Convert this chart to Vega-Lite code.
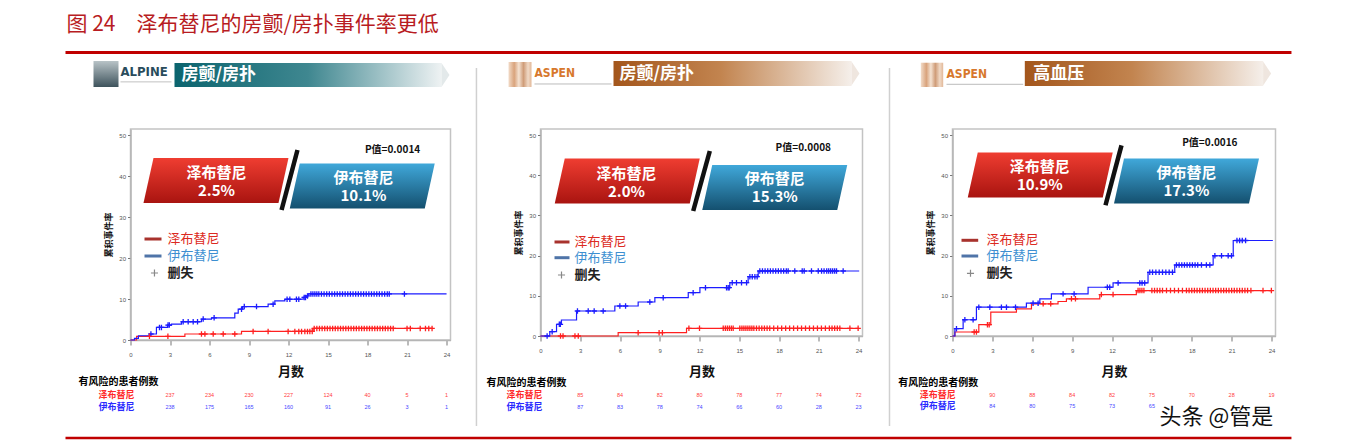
{
  "$schema": "https://vega.github.io/schema/vega-lite/v6.json",
  "background": "white",
  "padding": {"left": 62.5, "top": 13, "right": 5, "bottom": 5},
  "bounds": "flush",
  "spacing": 90,
  "config": {
    "font": "Noto Sans CJK SC",
    "view": {"stroke": "#c3c3c3", "strokeWidth": 1.5},
    "axis": {"grid": false, "domainColor": "#b5b5b5", "domainWidth": 1.5, "tickColor": "#777777", "labelFontSize": 6, "labelColor": "#555555", "labelFont": "Liberation Sans", "labelFlush": false, "labelOverlap": false, "titleColor": "#111111", "titleFont": "Noto Sans CJK SC", "titleFontWeight": "bold"},
    "axisX": {"tickSize": 5, "labelPadding": 6, "titleFontSize": 13},
    "axisY": {"tickSize": 3, "labelPadding": 2, "titleFontSize": 9, "titlePadding": 5}
  },
  "datasets": {
    "one": [{}],
    "p1_steps": [
      {"arm": "泽布替尼", "m": 0, "v": 0}, {"arm": "泽布替尼", "m": 0.46, "v": 0.89}, {"arm": "泽布替尼", "m": 4.13, "v": 1.46}, {"arm": "泽布替尼", "m": 8.43, "v": 2.1}, {"arm": "泽布替尼", "m": 13.87, "v": 2.83}, {"arm": "泽布替尼", "m": 22.98, "v": 2.83},
      {"arm": "伊布替尼", "m": 0, "v": 0}, {"arm": "伊布替尼", "m": 0.3, "v": 0.4}, {"arm": "伊布替尼", "m": 0.6, "v": 1.04}, {"arm": "伊布替尼", "m": 1.47, "v": 1.46}, {"arm": "伊布替尼", "m": 1.97, "v": 3.07}, {"arm": "伊布替尼", "m": 2.81, "v": 3.64}, {"arm": "伊布替尼", "m": 3.11, "v": 3.88}, {"arm": "伊布替尼", "m": 3.87, "v": 4.45}, {"arm": "伊布替尼", "m": 5.39, "v": 5.1}, {"arm": "伊布替尼", "m": 6.15, "v": 5.42}, {"arm": "伊布替尼", "m": 7.92, "v": 6.55}, {"arm": "伊布替尼", "m": 8.18, "v": 7.52}, {"arm": "伊布替尼", "m": 8.5, "v": 8.17}, {"arm": "伊布替尼", "m": 10.45, "v": 8.74}, {"arm": "伊布替尼", "m": 10.96, "v": 9.55}, {"arm": "伊布替尼", "m": 11.72, "v": 9.95}, {"arm": "伊布替尼", "m": 13.11, "v": 10.4}, {"arm": "伊布替尼", "m": 13.36, "v": 10.76}, {"arm": "伊布替尼", "m": 13.49, "v": 11.24}, {"arm": "伊布替尼", "m": 24, "v": 11.24}
    ],
    "p1_marks": [
      {"arm": "伊布替尼", "m": 1.55, "v": 1.46}, {"arm": "伊布替尼", "m": 2.2, "v": 3.07}, {"arm": "伊布替尼", "m": 2.35, "v": 3.07}, {"arm": "伊布替尼", "m": 2.85, "v": 3.64}, {"arm": "伊布替尼", "m": 2.95, "v": 3.64}, {"arm": "伊布替尼", "m": 4.0, "v": 4.45}, {"arm": "伊布替尼", "m": 4.38, "v": 4.45}, {"arm": "伊布替尼", "m": 4.76, "v": 4.45}, {"arm": "伊布替尼", "m": 5.09, "v": 4.45}, {"arm": "伊布替尼", "m": 5.52, "v": 5.1}, {"arm": "伊布替尼", "m": 6.35, "v": 5.42}, {"arm": "伊布替尼", "m": 8.43, "v": 7.52}, {"arm": "伊布替尼", "m": 8.64, "v": 8.17}, {"arm": "伊布替尼", "m": 9.57, "v": 8.17}, {"arm": "伊布替尼", "m": 10.83, "v": 8.74}, {"arm": "伊布替尼", "m": 11.89, "v": 9.95}, {"arm": "伊布替尼", "m": 12.1, "v": 9.95}, {"arm": "伊布替尼", "m": 12.6, "v": 9.95}, {"arm": "伊布替尼", "m": 12.78, "v": 9.95}, {"arm": "伊布替尼", "m": 13.19, "v": 10.4}, {"arm": "伊布替尼", "m": 13.29, "v": 10.4}, {"arm": "伊布替尼", "m": 13.44, "v": 10.76},
      {"arm": "伊布替尼", "m": 13.7, "v": 11.24}, {"arm": "伊布替尼", "m": 13.85, "v": 11.24}, {"arm": "伊布替尼", "m": 14.0, "v": 11.24}, {"arm": "伊布替尼", "m": 14.15, "v": 11.24}, {"arm": "伊布替尼", "m": 14.3, "v": 11.24}, {"arm": "伊布替尼", "m": 14.5, "v": 11.24}, {"arm": "伊布替尼", "m": 14.7, "v": 11.24}, {"arm": "伊布替尼", "m": 14.9, "v": 11.24}, {"arm": "伊布替尼", "m": 15.1, "v": 11.24}, {"arm": "伊布替尼", "m": 15.3, "v": 11.24}, {"arm": "伊布替尼", "m": 15.5, "v": 11.24}, {"arm": "伊布替尼", "m": 15.7, "v": 11.24}, {"arm": "伊布替尼", "m": 15.9, "v": 11.24}, {"arm": "伊布替尼", "m": 16.1, "v": 11.24}, {"arm": "伊布替尼", "m": 16.3, "v": 11.24}, {"arm": "伊布替尼", "m": 16.5, "v": 11.24}, {"arm": "伊布替尼", "m": 16.7, "v": 11.24}, {"arm": "伊布替尼", "m": 16.9, "v": 11.24}, {"arm": "伊布替尼", "m": 17.1, "v": 11.24}, {"arm": "伊布替尼", "m": 17.3, "v": 11.24}, {"arm": "伊布替尼", "m": 17.5, "v": 11.24}, {"arm": "伊布替尼", "m": 17.7, "v": 11.24}, {"arm": "伊布替尼", "m": 17.9, "v": 11.24}, {"arm": "伊布替尼", "m": 18.1, "v": 11.24}, {"arm": "伊布替尼", "m": 18.3, "v": 11.24}, {"arm": "伊布替尼", "m": 18.5, "v": 11.24}, {"arm": "伊布替尼", "m": 18.7, "v": 11.24}, {"arm": "伊布替尼", "m": 18.9, "v": 11.24}, {"arm": "伊布替尼", "m": 19.1, "v": 11.24}, {"arm": "伊布替尼", "m": 19.3, "v": 11.24}, {"arm": "伊布替尼", "m": 19.5, "v": 11.24}, {"arm": "伊布替尼", "m": 19.65, "v": 11.24}, {"arm": "伊布替尼", "m": 20.8, "v": 11.24},
      {"arm": "泽布替尼", "m": 1.44, "v": 0.89}, {"arm": "泽布替尼", "m": 2.84, "v": 0.89}, {"arm": "泽布替尼", "m": 5.39, "v": 1.46}, {"arm": "泽布替尼", "m": 5.65, "v": 1.46}, {"arm": "泽布替尼", "m": 6.28, "v": 1.46}, {"arm": "泽布替尼", "m": 7.04, "v": 1.46}, {"arm": "泽布替尼", "m": 7.92, "v": 1.46}, {"arm": "泽布替尼", "m": 9.31, "v": 2.1}, {"arm": "泽布替尼", "m": 10.45, "v": 2.1}, {"arm": "泽布替尼", "m": 11.97, "v": 2.1}, {"arm": "泽布替尼", "m": 12.48, "v": 2.1}, {"arm": "泽布替尼", "m": 12.78, "v": 2.1}, {"arm": "泽布替尼", "m": 12.99, "v": 2.1}, {"arm": "泽布替尼", "m": 13.24, "v": 2.1}, {"arm": "泽布替尼", "m": 13.44, "v": 2.1}, {"arm": "泽布替尼", "m": 13.62, "v": 2.1}, {"arm": "泽布替尼", "m": 13.8, "v": 2.1},
      {"arm": "泽布替尼", "m": 13.95, "v": 2.83}, {"arm": "泽布替尼", "m": 14.15, "v": 2.83}, {"arm": "泽布替尼", "m": 14.35, "v": 2.83}, {"arm": "泽布替尼", "m": 14.55, "v": 2.83}, {"arm": "泽布替尼", "m": 14.75, "v": 2.83}, {"arm": "泽布替尼", "m": 14.95, "v": 2.83}, {"arm": "泽布替尼", "m": 15.15, "v": 2.83}, {"arm": "泽布替尼", "m": 15.35, "v": 2.83}, {"arm": "泽布替尼", "m": 15.55, "v": 2.83}, {"arm": "泽布替尼", "m": 15.75, "v": 2.83}, {"arm": "泽布替尼", "m": 15.95, "v": 2.83}, {"arm": "泽布替尼", "m": 16.15, "v": 2.83}, {"arm": "泽布替尼", "m": 16.35, "v": 2.83}, {"arm": "泽布替尼", "m": 16.55, "v": 2.83}, {"arm": "泽布替尼", "m": 16.75, "v": 2.83}, {"arm": "泽布替尼", "m": 16.95, "v": 2.83}, {"arm": "泽布替尼", "m": 17.15, "v": 2.83}, {"arm": "泽布替尼", "m": 17.35, "v": 2.83}, {"arm": "泽布替尼", "m": 17.55, "v": 2.83}, {"arm": "泽布替尼", "m": 17.75, "v": 2.83}, {"arm": "泽布替尼", "m": 17.95, "v": 2.83}, {"arm": "泽布替尼", "m": 18.15, "v": 2.83}, {"arm": "泽布替尼", "m": 18.35, "v": 2.83}, {"arm": "泽布替尼", "m": 18.55, "v": 2.83}, {"arm": "泽布替尼", "m": 18.75, "v": 2.83}, {"arm": "泽布替尼", "m": 18.95, "v": 2.83}, {"arm": "泽布替尼", "m": 19.15, "v": 2.83}, {"arm": "泽布替尼", "m": 19.35, "v": 2.83}, {"arm": "泽布替尼", "m": 19.55, "v": 2.83}, {"arm": "泽布替尼", "m": 19.75, "v": 2.83}, {"arm": "泽布替尼", "m": 19.95, "v": 2.83}, {"arm": "泽布替尼", "m": 21.0, "v": 2.83}, {"arm": "泽布替尼", "m": 21.25, "v": 2.83}, {"arm": "泽布替尼", "m": 22.0, "v": 2.83}, {"arm": "泽布替尼", "m": 22.4, "v": 2.83}, {"arm": "泽布替尼", "m": 22.65, "v": 2.83}, {"arm": "泽布替尼", "m": 22.9, "v": 2.83}
    ],
    "p1_risk": [
      {"arm": "泽布替尼", "month": 3, "n": 237}, {"arm": "泽布替尼", "month": 6, "n": 234}, {"arm": "泽布替尼", "month": 9, "n": 230}, {"arm": "泽布替尼", "month": 12, "n": 227}, {"arm": "泽布替尼", "month": 15, "n": 124}, {"arm": "泽布替尼", "month": 18, "n": 40}, {"arm": "泽布替尼", "month": 21, "n": 5}, {"arm": "泽布替尼", "month": 24, "n": 1},
      {"arm": "伊布替尼", "month": 3, "n": 238}, {"arm": "伊布替尼", "month": 6, "n": 175}, {"arm": "伊布替尼", "month": 9, "n": 165}, {"arm": "伊布替尼", "month": 12, "n": 160}, {"arm": "伊布替尼", "month": 15, "n": 91}, {"arm": "伊布替尼", "month": 18, "n": 26}, {"arm": "伊布替尼", "month": 21, "n": 3}, {"arm": "伊布替尼", "month": 24, "n": 1}
    ],
    "p2_steps": [
      {"arm": "泽布替尼", "m": 0, "v": 0}, {"arm": "泽布替尼", "m": 5.86, "v": 0.83}, {"arm": "泽布替尼", "m": 11.02, "v": 1.9}, {"arm": "泽布替尼", "m": 24, "v": 1.9},
      {"arm": "伊布替尼", "m": 0, "v": 0}, {"arm": "伊布替尼", "m": 0.7, "v": 1.07}, {"arm": "伊布替尼", "m": 1.21, "v": 2.9}, {"arm": "伊布替尼", "m": 1.58, "v": 3.98}, {"arm": "伊布替尼", "m": 2.72, "v": 6.22}, {"arm": "伊布替尼", "m": 5.61, "v": 7.46}, {"arm": "伊布替尼", "m": 7.37, "v": 8.46}, {"arm": "伊布替尼", "m": 8.63, "v": 9.53}, {"arm": "伊布替尼", "m": 11.15, "v": 10.78}, {"arm": "伊布替尼", "m": 12.03, "v": 12.02}, {"arm": "伊布替尼", "m": 14.29, "v": 13.27}, {"arm": "伊布替尼", "m": 15.67, "v": 14.76}, {"arm": "伊布替尼", "m": 16.43, "v": 16.17}, {"arm": "伊布替尼", "m": 24.05, "v": 16.17}
    ],
    "p2_marks": [
      {"arm": "伊布替尼", "m": 0.5, "v": 0}, {"arm": "伊布替尼", "m": 0.88, "v": 1.07}, {"arm": "伊布替尼", "m": 1.42, "v": 2.9}, {"arm": "伊布替尼", "m": 1.5, "v": 2.9}, {"arm": "伊布替尼", "m": 2.79, "v": 6.22}, {"arm": "伊布替尼", "m": 3.6, "v": 6.22}, {"arm": "伊布替尼", "m": 4.05, "v": 6.22}, {"arm": "伊布替尼", "m": 4.73, "v": 6.22}, {"arm": "伊布替尼", "m": 5.99, "v": 7.46}, {"arm": "伊布替尼", "m": 6.42, "v": 7.46}, {"arm": "伊布替尼", "m": 8.25, "v": 8.46}, {"arm": "伊布替尼", "m": 9.26, "v": 9.53}, {"arm": "伊布替尼", "m": 11.52, "v": 10.78}, {"arm": "伊布替尼", "m": 12.45, "v": 12.02}, {"arm": "伊布替尼", "m": 14.04, "v": 12.02}, {"arm": "伊布替尼", "m": 14.16, "v": 12.02}, {"arm": "伊布替尼", "m": 14.24, "v": 12.02}, {"arm": "伊布替尼", "m": 14.47, "v": 13.27}, {"arm": "伊布替尼", "m": 14.79, "v": 13.27}, {"arm": "伊布替尼", "m": 15.17, "v": 13.27}, {"arm": "伊布替尼", "m": 15.55, "v": 13.27}, {"arm": "伊布替尼", "m": 15.8, "v": 14.76}, {"arm": "伊布替尼", "m": 15.98, "v": 14.76}, {"arm": "伊布替尼", "m": 16.18, "v": 14.76}, {"arm": "伊布替尼", "m": 16.35, "v": 14.76},
      {"arm": "伊布替尼", "m": 16.55, "v": 16.17}, {"arm": "伊布替尼", "m": 16.75, "v": 16.17}, {"arm": "伊布替尼", "m": 16.95, "v": 16.17}, {"arm": "伊布替尼", "m": 17.15, "v": 16.17}, {"arm": "伊布替尼", "m": 17.35, "v": 16.17}, {"arm": "伊布替尼", "m": 17.55, "v": 16.17}, {"arm": "伊布替尼", "m": 17.75, "v": 16.17}, {"arm": "伊布替尼", "m": 17.95, "v": 16.17}, {"arm": "伊布替尼", "m": 18.15, "v": 16.17}, {"arm": "伊布替尼", "m": 18.35, "v": 16.17}, {"arm": "伊布替尼", "m": 18.55, "v": 16.17}, {"arm": "伊布替尼", "m": 18.69, "v": 16.17}, {"arm": "伊布替尼", "m": 19.19, "v": 16.17}, {"arm": "伊布替尼", "m": 19.75, "v": 16.17}, {"arm": "伊布替尼", "m": 19.9, "v": 16.17}, {"arm": "伊布替尼", "m": 20.45, "v": 16.17}, {"arm": "伊布替尼", "m": 20.96, "v": 16.17}, {"arm": "伊布替尼", "m": 21.21, "v": 16.17}, {"arm": "伊布替尼", "m": 21.4, "v": 16.17}, {"arm": "伊布替尼", "m": 21.6, "v": 16.17}, {"arm": "伊布替尼", "m": 21.75, "v": 16.17}, {"arm": "伊布替尼", "m": 21.9, "v": 16.17}, {"arm": "伊布替尼", "m": 22.05, "v": 16.17}, {"arm": "伊布替尼", "m": 22.2, "v": 16.17}, {"arm": "伊布替尼", "m": 22.34, "v": 16.17}, {"arm": "伊布替尼", "m": 22.84, "v": 16.17},
      {"arm": "泽布替尼", "m": 1.51, "v": 0}, {"arm": "泽布替尼", "m": 1.7, "v": 0}, {"arm": "泽布替尼", "m": 2.6, "v": 0}, {"arm": "泽布替尼", "m": 2.85, "v": 0}, {"arm": "泽布替尼", "m": 7.37, "v": 0.83}, {"arm": "泽布替尼", "m": 8.95, "v": 0.83}, {"arm": "泽布替尼", "m": 9.2, "v": 0.83}, {"arm": "泽布替尼", "m": 11.2, "v": 1.9}, {"arm": "泽布替尼", "m": 12.0, "v": 1.9}, {"arm": "泽布替尼", "m": 13.79, "v": 1.9}, {"arm": "泽布替尼", "m": 13.95, "v": 1.9}, {"arm": "泽布替尼", "m": 14.1, "v": 1.9}, {"arm": "泽布替尼", "m": 14.25, "v": 1.9}, {"arm": "泽布替尼", "m": 14.4, "v": 1.9}, {"arm": "泽布替尼", "m": 14.54, "v": 1.9}, {"arm": "泽布替尼", "m": 15.04, "v": 1.9}, {"arm": "泽布替尼", "m": 15.2, "v": 1.9}, {"arm": "泽布替尼", "m": 15.35, "v": 1.9}, {"arm": "泽布替尼", "m": 15.5, "v": 1.9}, {"arm": "泽布替尼", "m": 15.65, "v": 1.9}, {"arm": "泽布替尼", "m": 15.8, "v": 1.9}, {"arm": "泽布替尼", "m": 15.95, "v": 1.9}, {"arm": "泽布替尼", "m": 16.1, "v": 1.9}, {"arm": "泽布替尼", "m": 16.3, "v": 1.9}, {"arm": "泽布替尼", "m": 16.5, "v": 1.9}, {"arm": "泽布替尼", "m": 16.7, "v": 1.9}, {"arm": "泽布替尼", "m": 16.9, "v": 1.9}, {"arm": "泽布替尼", "m": 17.1, "v": 1.9}, {"arm": "泽布替尼", "m": 17.3, "v": 1.9}, {"arm": "泽布替尼", "m": 17.6, "v": 1.9}, {"arm": "泽布替尼", "m": 17.9, "v": 1.9}, {"arm": "泽布替尼", "m": 18.2, "v": 1.9}, {"arm": "泽布替尼", "m": 18.5, "v": 1.9}, {"arm": "泽布替尼", "m": 18.8, "v": 1.9}, {"arm": "泽布替尼", "m": 19.1, "v": 1.9}, {"arm": "泽布替尼", "m": 19.4, "v": 1.9}, {"arm": "泽布替尼", "m": 19.7, "v": 1.9}, {"arm": "泽布替尼", "m": 20.0, "v": 1.9}, {"arm": "泽布替尼", "m": 20.3, "v": 1.9}, {"arm": "泽布替尼", "m": 20.6, "v": 1.9}, {"arm": "泽布替尼", "m": 20.9, "v": 1.9}, {"arm": "泽布替尼", "m": 21.2, "v": 1.9}, {"arm": "泽布替尼", "m": 21.5, "v": 1.9}, {"arm": "泽布替尼", "m": 21.8, "v": 1.9}, {"arm": "泽布替尼", "m": 22.0, "v": 1.9}, {"arm": "泽布替尼", "m": 22.2, "v": 1.9}, {"arm": "泽布替尼", "m": 22.4, "v": 1.9}, {"arm": "泽布替尼", "m": 22.59, "v": 1.9}, {"arm": "泽布替尼", "m": 23.35, "v": 1.9}, {"arm": "泽布替尼", "m": 23.97, "v": 1.9}
    ],
    "p2_risk": [
      {"arm": "泽布替尼", "month": 3, "n": 85}, {"arm": "泽布替尼", "month": 6, "n": 84}, {"arm": "泽布替尼", "month": 9, "n": 82}, {"arm": "泽布替尼", "month": 12, "n": 80}, {"arm": "泽布替尼", "month": 15, "n": 78}, {"arm": "泽布替尼", "month": 18, "n": 77}, {"arm": "泽布替尼", "month": 21, "n": 74}, {"arm": "泽布替尼", "month": 24, "n": 72},
      {"arm": "伊布替尼", "month": 3, "n": 87}, {"arm": "伊布替尼", "month": 6, "n": 83}, {"arm": "伊布替尼", "month": 9, "n": 78}, {"arm": "伊布替尼", "month": 12, "n": 74}, {"arm": "伊布替尼", "month": 15, "n": 66}, {"arm": "伊布替尼", "month": 18, "n": 60}, {"arm": "伊布替尼", "month": 21, "n": 28}, {"arm": "伊布替尼", "month": 24, "n": 23}
    ],
    "p3_steps": [
      {"arm": "泽布替尼", "m": 0, "v": 0}, {"arm": "泽布替尼", "m": 0.18, "v": 0.99}, {"arm": "泽布替尼", "m": 1.98, "v": 2.81}, {"arm": "泽布替尼", "m": 2.88, "v": 5.94}, {"arm": "泽布替尼", "m": 4.81, "v": 6.77}, {"arm": "泽布替尼", "m": 5.94, "v": 8.0}, {"arm": "泽布替尼", "m": 7.94, "v": 8.58}, {"arm": "泽布替尼", "m": 8.57, "v": 9.24}, {"arm": "泽布替尼", "m": 11.08, "v": 10.31}, {"arm": "泽布替尼", "m": 13.83, "v": 11.3}, {"arm": "泽布替尼", "m": 24, "v": 11.3},
      {"arm": "伊布替尼", "m": 0, "v": 0}, {"arm": "伊布替尼", "m": 0.18, "v": 1.82}, {"arm": "伊布替尼", "m": 0.8, "v": 4.04}, {"arm": "伊布替尼", "m": 1.8, "v": 7.18}, {"arm": "伊布替尼", "m": 5.56, "v": 8.17}, {"arm": "伊布替尼", "m": 6.57, "v": 9.24}, {"arm": "伊布替尼", "m": 7.44, "v": 10.48}, {"arm": "伊布替尼", "m": 10.2, "v": 12.13}, {"arm": "伊布替尼", "m": 12.08, "v": 13.2}, {"arm": "伊布替尼", "m": 14.71, "v": 15.84}, {"arm": "伊布替尼", "m": 16.72, "v": 17.66}, {"arm": "伊布替尼", "m": 19.61, "v": 19.97}, {"arm": "伊布替尼", "m": 21.12, "v": 23.76}, {"arm": "伊布替尼", "m": 24.1, "v": 23.76}
    ],
    "p3_marks": [
      {"arm": "伊布替尼", "m": 0.3, "v": 1.82}, {"arm": "伊布替尼", "m": 0.93, "v": 4.04}, {"arm": "伊布替尼", "m": 1.55, "v": 4.04}, {"arm": "伊布替尼", "m": 1.98, "v": 7.18}, {"arm": "伊布替尼", "m": 2.81, "v": 7.18}, {"arm": "伊布替尼", "m": 3.68, "v": 7.18}, {"arm": "伊布替尼", "m": 4.06, "v": 7.18}, {"arm": "伊布替尼", "m": 4.74, "v": 7.18}, {"arm": "伊布替尼", "m": 6.06, "v": 8.17}, {"arm": "伊布替尼", "m": 6.44, "v": 8.17}, {"arm": "伊布替尼", "m": 8.32, "v": 10.48}, {"arm": "伊布替尼", "m": 9.15, "v": 10.48}, {"arm": "伊布替尼", "m": 11.65, "v": 12.13}, {"arm": "伊布替尼", "m": 11.83, "v": 12.13}, {"arm": "伊布替尼", "m": 12.46, "v": 13.2}, {"arm": "伊布替尼", "m": 14.09, "v": 13.2}, {"arm": "伊布替尼", "m": 14.26, "v": 13.2}, {"arm": "伊布替尼", "m": 14.46, "v": 13.2},
      {"arm": "伊布替尼", "m": 14.84, "v": 15.84}, {"arm": "伊布替尼", "m": 15.05, "v": 15.84}, {"arm": "伊布替尼", "m": 15.3, "v": 15.84}, {"arm": "伊布替尼", "m": 15.55, "v": 15.84}, {"arm": "伊布替尼", "m": 15.8, "v": 15.84}, {"arm": "伊布替尼", "m": 16.05, "v": 15.84}, {"arm": "伊布替尼", "m": 16.3, "v": 15.84}, {"arm": "伊布替尼", "m": 16.55, "v": 15.84},
      {"arm": "伊布替尼", "m": 16.85, "v": 17.66}, {"arm": "伊布替尼", "m": 17.05, "v": 17.66}, {"arm": "伊布替尼", "m": 17.25, "v": 17.66}, {"arm": "伊布替尼", "m": 17.45, "v": 17.66}, {"arm": "伊布替尼", "m": 17.65, "v": 17.66}, {"arm": "伊布替尼", "m": 17.85, "v": 17.66}, {"arm": "伊布替尼", "m": 18.05, "v": 17.66}, {"arm": "伊布替尼", "m": 18.25, "v": 17.66}, {"arm": "伊布替尼", "m": 18.45, "v": 17.66}, {"arm": "伊布替尼", "m": 18.73, "v": 17.66}, {"arm": "伊布替尼", "m": 19.1, "v": 17.66}, {"arm": "伊布替尼", "m": 19.36, "v": 17.66},
      {"arm": "伊布替尼", "m": 19.74, "v": 19.97}, {"arm": "伊布替尼", "m": 20.24, "v": 19.97}, {"arm": "伊布替尼", "m": 20.74, "v": 19.97}, {"arm": "伊布替尼", "m": 20.99, "v": 19.97}, {"arm": "伊布替尼", "m": 21.4, "v": 23.76}, {"arm": "伊布替尼", "m": 21.6, "v": 23.76}, {"arm": "伊布替尼", "m": 21.8, "v": 23.76}, {"arm": "伊布替尼", "m": 22.05, "v": 23.76},
      {"arm": "泽布替尼", "m": 1.63, "v": 0.99}, {"arm": "泽布替尼", "m": 1.8, "v": 0.99}, {"arm": "泽布替尼", "m": 2.63, "v": 2.81}, {"arm": "泽布替尼", "m": 2.76, "v": 2.81}, {"arm": "泽布替尼", "m": 6.82, "v": 8.0}, {"arm": "泽布替尼", "m": 7.39, "v": 8.0}, {"arm": "泽布替尼", "m": 8.95, "v": 9.24}, {"arm": "泽布替尼", "m": 9.25, "v": 9.24}, {"arm": "泽布替尼", "m": 11.2, "v": 10.31}, {"arm": "泽布替尼", "m": 12.08, "v": 10.31},
      {"arm": "泽布替尼", "m": 13.96, "v": 11.3}, {"arm": "泽布替尼", "m": 14.1, "v": 11.3}, {"arm": "泽布替尼", "m": 14.25, "v": 11.3}, {"arm": "泽布替尼", "m": 14.4, "v": 11.3}, {"arm": "泽布替尼", "m": 15.0, "v": 11.3}, {"arm": "泽布替尼", "m": 15.2, "v": 11.3}, {"arm": "泽布替尼", "m": 15.4, "v": 11.3}, {"arm": "泽布替尼", "m": 15.6, "v": 11.3}, {"arm": "泽布替尼", "m": 15.8, "v": 11.3}, {"arm": "泽布替尼", "m": 16.1, "v": 11.3}, {"arm": "泽布替尼", "m": 16.4, "v": 11.3}, {"arm": "泽布替尼", "m": 16.7, "v": 11.3}, {"arm": "泽布替尼", "m": 17.0, "v": 11.3}, {"arm": "泽布替尼", "m": 17.3, "v": 11.3}, {"arm": "泽布替尼", "m": 17.6, "v": 11.3}, {"arm": "泽布替尼", "m": 17.8, "v": 11.3}, {"arm": "泽布替尼", "m": 18.0, "v": 11.3}, {"arm": "泽布替尼", "m": 18.2, "v": 11.3}, {"arm": "泽布替尼", "m": 18.4, "v": 11.3}, {"arm": "泽布替尼", "m": 18.6, "v": 11.3}, {"arm": "泽布替尼", "m": 18.8, "v": 11.3}, {"arm": "泽布替尼", "m": 19.0, "v": 11.3}, {"arm": "泽布替尼", "m": 19.2, "v": 11.3}, {"arm": "泽布替尼", "m": 19.4, "v": 11.3}, {"arm": "泽布替尼", "m": 19.6, "v": 11.3}, {"arm": "泽布替尼", "m": 19.8, "v": 11.3}, {"arm": "泽布替尼", "m": 20.0, "v": 11.3}, {"arm": "泽布替尼", "m": 20.2, "v": 11.3}, {"arm": "泽布替尼", "m": 20.4, "v": 11.3}, {"arm": "泽布替尼", "m": 20.6, "v": 11.3}, {"arm": "泽布替尼", "m": 20.8, "v": 11.3}, {"arm": "泽布替尼", "m": 21.0, "v": 11.3}, {"arm": "泽布替尼", "m": 21.2, "v": 11.3}, {"arm": "泽布替尼", "m": 21.4, "v": 11.3}, {"arm": "泽布替尼", "m": 21.6, "v": 11.3}, {"arm": "泽布替尼", "m": 21.8, "v": 11.3}, {"arm": "泽布替尼", "m": 22.0, "v": 11.3}, {"arm": "泽布替尼", "m": 22.2, "v": 11.3}, {"arm": "泽布替尼", "m": 22.45, "v": 11.3}, {"arm": "泽布替尼", "m": 23.36, "v": 11.3}, {"arm": "泽布替尼", "m": 23.99, "v": 11.3}
    ],
    "p3_risk": [
      {"arm": "泽布替尼", "month": 3, "n": 90}, {"arm": "泽布替尼", "month": 6, "n": 88}, {"arm": "泽布替尼", "month": 9, "n": 84}, {"arm": "泽布替尼", "month": 12, "n": 82}, {"arm": "泽布替尼", "month": 15, "n": 75}, {"arm": "泽布替尼", "month": 18, "n": 70}, {"arm": "泽布替尼", "month": 21, "n": 28}, {"arm": "泽布替尼", "month": 24, "n": 19},
      {"arm": "伊布替尼", "month": 3, "n": 84}, {"arm": "伊布替尼", "month": 6, "n": 80}, {"arm": "伊布替尼", "month": 9, "n": 75}, {"arm": "伊布替尼", "month": 12, "n": 73}, {"arm": "伊布替尼", "month": 15, "n": 65}
    ]
  },
  "hconcat": [
    {
      "width": 320,
      "height": 211,
      "layer": [
        {"data": {"name": "p1_steps"}, "mark": {"type": "line", "interpolate": "step-after", "strokeWidth": 1.2},
         "encoding": {
           "x": {"field": "m", "type": "quantitative", "scale": {"domain": [0, 24.3], "nice": false}, "axis": {"values": [0, 3, 6, 9, 12, 15, 18, 21, 24], "tickCount": 10, "title": "月数", "titlePadding": 8}},
           "y": {"field": "v", "type": "quantitative", "scale": {"domain": [0, 51.5], "nice": false}, "axis": {"values": [0, 10, 20, 30, 40, 50], "tickCount": 7, "title": "累积事件率"}},
           "color": {"field": "arm", "type": "nominal", "scale": {"domain": ["泽布替尼", "伊布替尼"], "range": ["#ff2020", "#1c1cff"]}, "legend": null}}},
        {"data": {"name": "p1_marks"}, "mark": {"type": "point", "shape": "M -1 0 L 1 0 M 0 -1 L 0 1", "filled": false, "size": 30, "strokeWidth": 1.3, "opacity": 1},
         "encoding": {"x": {"field": "m", "type": "quantitative"}, "y": {"field": "v", "type": "quantitative"}, "color": {"field": "arm", "type": "nominal", "legend": null}}},
        {"data": {"name": "p1_risk"}, "transform": [{"filter": "datum.arm === '泽布替尼'"}], "mark": {"type": "text", "fontSize": 5.5, "color": "#ff4040", "font": "Liberation Sans"},
         "encoding": {"x": {"field": "month", "type": "quantitative"}, "y": {"datum": -13.42}, "text": {"field": "n"}}},
        {"data": {"name": "p1_risk"}, "transform": [{"filter": "datum.arm === '伊布替尼'"}], "mark": {"type": "text", "fontSize": 5.5, "color": "#4848ff", "font": "Liberation Sans"},
         "encoding": {"x": {"field": "month", "type": "quantitative"}, "y": {"datum": -16.28}, "text": {"field": "n"}}},
        {"data": {"name": "one"}, "mark": {"type": "text", "text": "图 24", "align": "left", "baseline": "top", "fontSize": 21, "color": "#b81c22"},
         "encoding": {"x": {"datum": -4.86}, "y": {"datum": 79.57}}},
        {"data": {"name": "one"}, "mark": {"type": "text", "text": "泽布替尼的房颤/房扑事件率更低", "align": "left", "baseline": "top", "fontSize": 21, "color": "#b81c22"},
         "encoding": {"x": {"datum": 0.456}, "y": {"datum": 79.57}}},
        {"data": {"name": "one"}, "mark": {"type": "rule", "color": "#c00000", "strokeWidth": 3},
         "encoding": {"x": {"datum": -4.936}, "x2": {"datum": 88.16}, "y": {"datum": 70.17}}},
        {"data": {"name": "one"}, "mark": {"type": "rule", "color": "#c00000", "strokeWidth": 2.5},
         "encoding": {"x": {"datum": -4.936}, "x2": {"datum": 88.16}, "y": {"datum": -23.92}}},
        {"data": {"name": "one"}, "mark": {"type": "rule", "color": "#d0d0d0", "strokeWidth": 1.5},
         "encoding": {"x": {"datum": 26.27}, "y": {"datum": 66.39}, "y2": {"datum": -20.99}}},
        {"data": {"name": "one"}, "mark": {"type": "rect", "fill": {"gradient": "linear", "x1": 0, "y1": 0, "x2": 0, "y2": 1, "stops": [{"offset": 0, "color": "#b8c3c7"}, {"offset": 1, "color": "#3e535c"}]}},
         "encoding": {"x": {"datum": -2.81}, "x2": {"datum": -0.911}, "y": {"datum": 68.1}, "y2": {"datum": 61.75}}},
        {"data": {"name": "one"}, "mark": {"type": "text", "text": "ALPINE", "align": "left", "baseline": "middle", "fontSize": 13, "font": "DejaVu Sans Condensed, Liberation Sans", "fontWeight": "bold", "color": "#2a4c5c"},
         "encoding": {"x": {"datum": -0.759}, "y": {"datum": 65.41}}},
        {"data": {"name": "one"}, "mark": {"type": "rule", "color": "#b0b0b0", "strokeWidth": 0.8},
         "encoding": {"x": {"datum": -0.759}, "x2": {"datum": 3.113}, "y": {"datum": 63.0}}},
        {"data": {"name": "one"}, "mark": {"type": "rect", "fill": {"gradient": "linear", "x1": 0, "y1": 0, "x2": 1, "y2": 0, "stops": [{"offset": 0, "color": "#0b646e"}, {"offset": 0.5, "color": "#3f8790"}, {"offset": 1, "color": "#eef2f3"}]}},
         "encoding": {"x": {"datum": 3.341}, "x2": {"datum": 23.62}, "y": {"datum": 67.61}, "y2": {"datum": 61.75}}},
        {"data": {"name": "one"}, "mark": {"type": "point", "shape": "M -1 -3 L 1 0 L -1 3 Z", "size": 64, "filled": true, "color": "#e3e9ea", "opacity": 1, "strokeWidth": 0},
         "encoding": {"x": {"datum": 23.92}, "y": {"datum": 64.68}}},
        {"data": {"name": "one"}, "mark": {"type": "text", "text": "房颤/房扑", "align": "left", "baseline": "middle", "fontSize": 17, "fontWeight": "bold", "color": "white"},
         "encoding": {"x": {"datum": 3.873}, "y": {"datum": 64.8}}},
        {"data": {"name": "one"}, "mark": {"type": "point", "shape": "M -0.926 -0.333 L 1.074 -0.333 L 0.926 0.333 L -1.074 0.333 Z", "size": 18225, "filled": true, "opacity": 1, "strokeWidth": 0, "fill": {"gradient": "linear", "x1": 0, "y1": 0, "x2": 0, "y2": 1, "stops": [{"offset": 0, "color": "#ef3d31"}, {"offset": 1, "color": "#a91410"}]}},
         "encoding": {"x": {"datum": 6.493}, "y": {"datum": 38.93}}},
        {"data": {"name": "one"}, "mark": {"type": "point", "shape": "M -0.926 -0.333 L 1.074 -0.333 L 0.926 0.333 L -1.074 0.333 Z", "size": 18225, "filled": true, "opacity": 1, "strokeWidth": 0, "fill": {"gradient": "linear", "x1": 0, "y1": 0, "x2": 0, "y2": 1, "stops": [{"offset": 0, "color": "#40a8da"}, {"offset": 1, "color": "#14506f"}]}},
         "encoding": {"x": {"datum": 17.598}, "y": {"datum": 37.59}}},
        {"data": {"name": "one"}, "mark": {"type": "rule", "color": "#111111", "strokeWidth": 4.5},
         "encoding": {"x": {"datum": 12.68}, "y": {"datum": 46.37}, "x2": {"datum": 11.47}, "y2": {"datum": 31.73}}},
        {"data": {"name": "one"}, "mark": {"type": "text", "text": ["泽布替尼", "2.5%"], "align": "center", "baseline": "middle", "lineHeight": 18, "fontSize": 15, "fontWeight": "bold", "color": "white"},
         "encoding": {"x": {"datum": 6.53}, "y": {"datum": 40.88}}},
        {"data": {"name": "one"}, "mark": {"type": "text", "text": ["伊布替尼", "10.1%"], "align": "center", "baseline": "middle", "lineHeight": 18, "fontSize": 15, "fontWeight": "bold", "color": "white"},
         "encoding": {"x": {"datum": 17.69}, "y": {"datum": 39.42}}},
        {"data": {"name": "one"}, "mark": {"type": "text", "text": "P值=0.0014", "align": "center", "baseline": "middle", "fontSize": 10, "fontWeight": "bold", "color": "#111111"},
         "encoding": {"x": {"datum": 19.9}, "y": {"datum": 46.3}}},
        {"data": {"name": "one"}, "mark": {"type": "rule", "color": "#a8322d", "strokeWidth": 3},
         "encoding": {"x": {"datum": 1.063}, "x2": {"datum": 2.354}, "y": {"datum": 24.65}}},
        {"data": {"name": "one"}, "mark": {"type": "rule", "color": "#4f74a8", "strokeWidth": 3},
         "encoding": {"x": {"datum": 1.063}, "x2": {"datum": 2.354}, "y": {"datum": 20.5}}},
        {"data": {"name": "one"}, "mark": {"type": "point", "shape": "M -1 0 L 1 0 M 0 -1 L 0 1", "filled": false, "size": 50, "strokeWidth": 1.2, "color": "#888888", "opacity": 1},
         "encoding": {"x": {"datum": 1.82}, "y": {"datum": 16.35}}},
        {"data": {"name": "one"}, "mark": {"type": "text", "text": "泽布替尼", "align": "left", "baseline": "middle", "fontSize": 13, "color": "#dc2a22"},
         "encoding": {"x": {"datum": 2.81}, "y": {"datum": 24.65}}},
        {"data": {"name": "one"}, "mark": {"type": "text", "text": "伊布替尼", "align": "left", "baseline": "middle", "fontSize": 13, "color": "#3d8fd1"},
         "encoding": {"x": {"datum": 2.81}, "y": {"datum": 20.5}}},
        {"data": {"name": "one"}, "mark": {"type": "text", "text": "删失", "align": "left", "baseline": "middle", "fontSize": 13, "fontWeight": "bold", "color": "#222222"},
         "encoding": {"x": {"datum": 2.81}, "y": {"datum": 16.35}}},
        {"data": {"name": "one"}, "mark": {"type": "text", "text": "有风险的患者例数", "align": "left", "baseline": "middle", "fontSize": 10, "fontWeight": "bold", "color": "#000000"},
         "encoding": {"x": {"datum": -3.949}, "y": {"datum": -10.25}}},
        {"data": {"name": "one"}, "mark": {"type": "text", "text": "泽布替尼", "align": "left", "baseline": "middle", "fontSize": 9, "fontWeight": "bold", "color": "#ff2a2a"},
         "encoding": {"x": {"datum": -2.43}, "y": {"datum": -13.42}}},
        {"data": {"name": "one"}, "mark": {"type": "text", "text": "伊布替尼", "align": "left", "baseline": "middle", "fontSize": 9, "fontWeight": "bold", "color": "#2a2aff"},
         "encoding": {"x": {"datum": -2.43}, "y": {"datum": -16.28}}}
      ]
    },
    {
      "width": 322,
      "height": 207,
      "layer": [
        {"data": {"name": "p2_steps"}, "mark": {"type": "line", "interpolate": "step-after", "strokeWidth": 1.2},
         "encoding": {
           "x": {"field": "m", "type": "quantitative", "scale": {"domain": [0, 24.3], "nice": false}, "axis": {"values": [0, 3, 6, 9, 12, 15, 18, 21, 24], "tickCount": 10, "title": "月数", "titlePadding": 12.5}},
           "y": {"field": "v", "type": "quantitative", "scale": {"domain": [0, 51.5], "nice": false}, "axis": {"values": [0, 10, 20, 30, 40, 50], "tickCount": 7, "title": "累积事件率"}},
           "color": {"field": "arm", "type": "nominal", "scale": {"domain": ["泽布替尼", "伊布替尼"], "range": ["#ff2020", "#1c1cff"]}, "legend": null}}},
        {"data": {"name": "p2_marks"}, "mark": {"type": "point", "shape": "M -1 0 L 1 0 M 0 -1 L 0 1", "filled": false, "size": 30, "strokeWidth": 1.3, "opacity": 1},
         "encoding": {"x": {"field": "m", "type": "quantitative"}, "y": {"field": "v", "type": "quantitative"}, "color": {"field": "arm", "type": "nominal", "legend": null}}},
        {"data": {"name": "p2_risk"}, "transform": [{"filter": "datum.arm === '泽布替尼'"}], "mark": {"type": "text", "fontSize": 5.5, "color": "#ff4040", "font": "Liberation Sans"},
         "encoding": {"x": {"field": "month", "type": "quantitative"}, "y": {"datum": -14.68}, "text": {"field": "n"}}},
        {"data": {"name": "p2_risk"}, "transform": [{"filter": "datum.arm === '伊布替尼'"}], "mark": {"type": "text", "fontSize": 5.5, "color": "#4848ff", "font": "Liberation Sans"},
         "encoding": {"x": {"field": "month", "type": "quantitative"}, "y": {"datum": -17.59}, "text": {"field": "n"}}},
        {"data": {"name": "one"}, "mark": {"type": "rect", "fill": {"gradient": "linear", "x1": 0, "y1": 0, "x2": 1, "y2": 0, "stops": [{"offset": 0, "color": "#f2dcc9"}, {"offset": 0.25, "color": "#d9a37c"}, {"offset": 0.45, "color": "#f4e2d2"}, {"offset": 0.65, "color": "#cf9c78"}, {"offset": 0.85, "color": "#f0d9c6"}, {"offset": 1, "color": "#e2b898"}]}},
         "encoding": {"x": {"datum": -2.415}, "x2": {"datum": -0.679}, "y": {"datum": 68.17}, "y2": {"datum": 61.95}}},
        {"data": {"name": "one"}, "mark": {"type": "text", "text": "ASPEN", "align": "left", "baseline": "middle", "fontSize": 12, "font": "DejaVu Sans Condensed, Liberation Sans", "fontWeight": "bold", "color": "#d7782c"},
         "encoding": {"x": {"datum": -0.453}, "y": {"datum": 65.31}}},
        {"data": {"name": "one"}, "mark": {"type": "rule", "color": "#aaaaaa", "strokeWidth": 0.8},
         "encoding": {"x": {"datum": -0.453}, "x2": {"datum": 5.358}, "y": {"datum": 62.7}}},
        {"data": {"name": "one"}, "mark": {"type": "rect", "fill": {"gradient": "linear", "x1": 0, "y1": 0, "x2": 1, "y2": 0, "stops": [{"offset": 0, "color": "#a3561c"}, {"offset": 0.45, "color": "#c2844f"}, {"offset": 1, "color": "#f5efea"}]}},
         "encoding": {"x": {"datum": 5.509}, "x2": {"datum": 23.47}, "y": {"datum": 68.42}, "y2": {"datum": 62.2}}},
        {"data": {"name": "one"}, "mark": {"type": "point", "shape": "M -1 -3 L 1 0 L -1 3 Z", "size": 64, "filled": true, "color": "#efe6df", "opacity": 1, "strokeWidth": 0},
         "encoding": {"x": {"datum": 23.77}, "y": {"datum": 65.31}}},
        {"data": {"name": "one"}, "mark": {"type": "text", "text": "房颤/房扑", "align": "left", "baseline": "middle", "fontSize": 17, "fontWeight": "bold", "color": "white"},
         "encoding": {"x": {"datum": 5.962}, "y": {"datum": 65.18}}},
        {"data": {"name": "one"}, "mark": {"type": "point", "shape": "M -0.926 -0.333 L 1.074 -0.333 L 0.926 0.333 L -1.074 0.333 Z", "size": 18225, "filled": true, "opacity": 1, "strokeWidth": 0, "fill": {"gradient": "linear", "x1": 0, "y1": 0, "x2": 0, "y2": 1, "stops": [{"offset": 0, "color": "#ef3d31"}, {"offset": 1, "color": "#a91410"}]}},
         "encoding": {"x": {"datum": 6.547}, "y": {"datum": 38.56}}},
        {"data": {"name": "one"}, "mark": {"type": "point", "shape": "M -0.926 -0.333 L 1.074 -0.333 L 0.926 0.333 L -1.074 0.333 Z", "size": 18225, "filled": true, "opacity": 1, "strokeWidth": 0, "fill": {"gradient": "linear", "x1": 0, "y1": 0, "x2": 0, "y2": 1, "stops": [{"offset": 0, "color": "#40a8da"}, {"offset": 1, "color": "#14506f"}]}},
         "encoding": {"x": {"datum": 17.678}, "y": {"datum": 36.95}}},
        {"data": {"name": "one"}, "mark": {"type": "rule", "color": "#111111", "strokeWidth": 4.5},
         "encoding": {"x": {"datum": 12.777}, "y": {"datum": 46.03}, "x2": {"datum": 11.524}, "y2": {"datum": 31.1}}},
        {"data": {"name": "one"}, "mark": {"type": "text", "text": ["泽布替尼", "2.0%"], "align": "center", "baseline": "middle", "lineHeight": 18, "fontSize": 15, "fontWeight": "bold", "color": "white"},
         "encoding": {"x": {"datum": 6.49}, "y": {"datum": 40.35}}},
        {"data": {"name": "one"}, "mark": {"type": "text", "text": ["伊布替尼", "15.3%"], "align": "center", "baseline": "middle", "lineHeight": 18, "fontSize": 15, "fontWeight": "bold", "color": "white"},
         "encoding": {"x": {"datum": 17.68}, "y": {"datum": 39.18}}},
        {"data": {"name": "one"}, "mark": {"type": "text", "text": "P值=0.0008", "align": "center", "baseline": "middle", "fontSize": 10, "fontWeight": "bold", "color": "#111111"},
         "encoding": {"x": {"datum": 19.83}, "y": {"datum": 46.85}}},
        {"data": {"name": "one"}, "mark": {"type": "rule", "color": "#a8322d", "strokeWidth": 3},
         "encoding": {"x": {"datum": 1.057}, "x2": {"datum": 2.188}, "y": {"datum": 23.39}}},
        {"data": {"name": "one"}, "mark": {"type": "rule", "color": "#4f74a8", "strokeWidth": 3},
         "encoding": {"x": {"datum": 1.057}, "x2": {"datum": 2.188}, "y": {"datum": 19.48}}},
        {"data": {"name": "one"}, "mark": {"type": "point", "shape": "M -1 0 L 1 0 M 0 -1 L 0 1", "filled": false, "size": 50, "strokeWidth": 1.2, "color": "#888888", "opacity": 1},
         "encoding": {"x": {"datum": 1.585}, "y": {"datum": 15.18}}},
        {"data": {"name": "one"}, "mark": {"type": "text", "text": "泽布替尼", "align": "left", "baseline": "middle", "fontSize": 13, "color": "#dc2a22"},
         "encoding": {"x": {"datum": 2.566}, "y": {"datum": 23.39}}},
        {"data": {"name": "one"}, "mark": {"type": "text", "text": "伊布替尼", "align": "left", "baseline": "middle", "fontSize": 13, "color": "#3d8fd1"},
         "encoding": {"x": {"datum": 2.566}, "y": {"datum": 19.48}}},
        {"data": {"name": "one"}, "mark": {"type": "text", "text": "删失", "align": "left", "baseline": "middle", "fontSize": 13, "fontWeight": "bold", "color": "#222222"},
         "encoding": {"x": {"datum": 2.566}, "y": {"datum": 15.18}}},
        {"data": {"name": "one"}, "mark": {"type": "text", "text": "有风险的患者例数", "align": "left", "baseline": "middle", "fontSize": 10, "fontWeight": "bold", "color": "#000000"},
         "encoding": {"x": {"datum": -4.075}, "y": {"datum": -11.69}}},
        {"data": {"name": "one"}, "mark": {"type": "text", "text": "泽布替尼", "align": "left", "baseline": "middle", "fontSize": 9, "fontWeight": "bold", "color": "#ff2a2a"},
         "encoding": {"x": {"datum": -2.566}, "y": {"datum": -14.68}}},
        {"data": {"name": "one"}, "mark": {"type": "text", "text": "伊布替尼", "align": "left", "baseline": "middle", "fontSize": 9, "fontWeight": "bold", "color": "#2a2aff"},
         "encoding": {"x": {"datum": -2.566}, "y": {"datum": -17.59}}}
      ]
    },
    {
      "width": 323,
      "height": 207,
      "layer": [
        {"data": {"name": "p3_steps"}, "mark": {"type": "line", "interpolate": "step-after", "strokeWidth": 1.2},
         "encoding": {
           "x": {"field": "m", "type": "quantitative", "scale": {"domain": [0, 24.3], "nice": false}, "axis": {"values": [0, 3, 6, 9, 12, 15, 18, 21, 24], "tickCount": 10, "title": "月数", "titlePadding": 12.5}},
           "y": {"field": "v", "type": "quantitative", "scale": {"domain": [0, 51.5], "nice": false}, "axis": {"values": [0, 10, 20, 30, 40, 50], "tickCount": 7, "title": "累积事件率"}},
           "color": {"field": "arm", "type": "nominal", "scale": {"domain": ["泽布替尼", "伊布替尼"], "range": ["#ff2020", "#1c1cff"]}, "legend": null}}},
        {"data": {"name": "p3_marks"}, "mark": {"type": "point", "shape": "M -1 0 L 1 0 M 0 -1 L 0 1", "filled": false, "size": 30, "strokeWidth": 1.3, "opacity": 1},
         "encoding": {"x": {"field": "m", "type": "quantitative"}, "y": {"field": "v", "type": "quantitative"}, "color": {"field": "arm", "type": "nominal", "legend": null}}},
        {"data": {"name": "p3_risk"}, "transform": [{"filter": "datum.arm === '泽布替尼'"}], "mark": {"type": "text", "fontSize": 5.5, "color": "#ff4040", "font": "Liberation Sans"},
         "encoding": {"x": {"field": "month", "type": "quantitative"}, "y": {"datum": -14.68}, "text": {"field": "n"}}},
        {"data": {"name": "p3_risk"}, "transform": [{"filter": "datum.arm === '伊布替尼'"}], "mark": {"type": "text", "fontSize": 5.5, "color": "#4848ff", "font": "Liberation Sans"},
         "encoding": {"x": {"field": "month", "type": "quantitative"}, "y": {"datum": -17.42}, "text": {"field": "n"}}},
        {"data": {"name": "one"}, "mark": {"type": "rule", "color": "#d0d0d0", "strokeWidth": 1.5},
         "encoding": {"x": {"datum": -4.74}, "y": {"datum": 66.68}, "y2": {"datum": -22.39}}},
        {"data": {"name": "one"}, "mark": {"type": "rect", "fill": {"gradient": "linear", "x1": 0, "y1": 0, "x2": 1, "y2": 0, "stops": [{"offset": 0, "color": "#f2dcc9"}, {"offset": 0.25, "color": "#d9a37c"}, {"offset": 0.45, "color": "#f4e2d2"}, {"offset": 0.65, "color": "#cf9c78"}, {"offset": 0.85, "color": "#f0d9c6"}, {"offset": 1, "color": "#e2b898"}]}},
         "encoding": {"x": {"datum": -2.385}, "x2": {"datum": -0.7}, "y": {"datum": 67.99}, "y2": {"datum": 61.95}}},
        {"data": {"name": "one"}, "mark": {"type": "text", "text": "ASPEN", "align": "left", "baseline": "middle", "fontSize": 12, "font": "DejaVu Sans Condensed, Liberation Sans", "fontWeight": "bold", "color": "#d7782c"},
         "encoding": {"x": {"datum": -0.451}, "y": {"datum": 65.26}}},
        {"data": {"name": "one"}, "mark": {"type": "rule", "color": "#aaaaaa", "strokeWidth": 0.8},
         "encoding": {"x": {"datum": -0.451}, "x2": {"datum": 5.32}, "y": {"datum": 62.62}}},
        {"data": {"name": "one"}, "mark": {"type": "rect", "fill": {"gradient": "linear", "x1": 0, "y1": 0, "x2": 1, "y2": 0, "stops": [{"offset": 0, "color": "#a3561c"}, {"offset": 0.45, "color": "#c2844f"}, {"offset": 1, "color": "#f5efea"}]}},
         "encoding": {"x": {"datum": 5.44}, "x2": {"datum": 23.37}, "y": {"datum": 68.42}, "y2": {"datum": 62.2}}},
        {"data": {"name": "one"}, "mark": {"type": "point", "shape": "M -1 -3 L 1 0 L -1 3 Z", "size": 64, "filled": true, "color": "#efe6df", "opacity": 1, "strokeWidth": 0},
         "encoding": {"x": {"datum": 23.67}, "y": {"datum": 65.31}}},
        {"data": {"name": "one"}, "mark": {"type": "text", "text": "高血压", "align": "left", "baseline": "middle", "fontSize": 17, "fontWeight": "bold", "color": "white"},
         "encoding": {"x": {"datum": 6.07}, "y": {"datum": 65.11}}},
        {"data": {"name": "one"}, "mark": {"type": "point", "shape": "M -0.926 -0.333 L 1.074 -0.333 L 0.926 0.333 L -1.074 0.333 Z", "size": 18225, "filled": true, "opacity": 1, "strokeWidth": 0, "fill": {"gradient": "linear", "x1": 0, "y1": 0, "x2": 0, "y2": 1, "stops": [{"offset": 0, "color": "#ef3d31"}, {"offset": 1, "color": "#a91410"}]}},
         "encoding": {"x": {"datum": 6.602}, "y": {"datum": 40.06}}},
        {"data": {"name": "one"}, "mark": {"type": "point", "shape": "M -0.926 -0.333 L 1.074 -0.333 L 0.926 0.333 L -1.074 0.333 Z", "size": 18225, "filled": true, "opacity": 1, "strokeWidth": 0, "fill": {"gradient": "linear", "x1": 0, "y1": 0, "x2": 0, "y2": 1, "stops": [{"offset": 0, "color": "#40a8da"}, {"offset": 1, "color": "#14506f"}]}},
         "encoding": {"x": {"datum": 17.605}, "y": {"datum": 38.56}}},
        {"data": {"name": "one"}, "mark": {"type": "rule", "color": "#111111", "strokeWidth": 4.5},
         "encoding": {"x": {"datum": 12.714}, "y": {"datum": 47.44}, "x2": {"datum": 11.511}, "y2": {"datum": 32.52}}},
        {"data": {"name": "one"}, "mark": {"type": "text", "text": ["泽布替尼", "10.9%"], "align": "center", "baseline": "middle", "lineHeight": 18, "fontSize": 15, "fontWeight": "bold", "color": "white"},
         "encoding": {"x": {"datum": 6.57}, "y": {"datum": 41.99}}},
        {"data": {"name": "one"}, "mark": {"type": "text", "text": ["伊布替尼", "17.3%"], "align": "center", "baseline": "middle", "lineHeight": 18, "fontSize": 15, "fontWeight": "bold", "color": "white"},
         "encoding": {"x": {"datum": 17.6}, "y": {"datum": 40.5}}},
        {"data": {"name": "one"}, "mark": {"type": "text", "text": "P值=0.0016", "align": "center", "baseline": "middle", "fontSize": 10, "fontWeight": "bold", "color": "#111111"},
         "encoding": {"x": {"datum": 19.36}, "y": {"datum": 48.09}}},
        {"data": {"name": "one"}, "mark": {"type": "rule", "color": "#a8322d", "strokeWidth": 3},
         "encoding": {"x": {"datum": 0.677}, "x2": {"datum": 1.933}, "y": {"datum": 23.81}}},
        {"data": {"name": "one"}, "mark": {"type": "rule", "color": "#4f74a8", "strokeWidth": 3},
         "encoding": {"x": {"datum": 0.677}, "x2": {"datum": 1.933}, "y": {"datum": 19.9}}},
        {"data": {"name": "one"}, "mark": {"type": "point", "shape": "M -1 0 L 1 0 M 0 -1 L 0 1", "filled": false, "size": 50, "strokeWidth": 1.2, "color": "#888888", "opacity": 1},
         "encoding": {"x": {"datum": 1.354}, "y": {"datum": 15.6}}},
        {"data": {"name": "one"}, "mark": {"type": "text", "text": "泽布替尼", "align": "left", "baseline": "middle", "fontSize": 13, "color": "#dc2a22"},
         "encoding": {"x": {"datum": 2.558}, "y": {"datum": 23.81}}},
        {"data": {"name": "one"}, "mark": {"type": "text", "text": "伊布替尼", "align": "left", "baseline": "middle", "fontSize": 13, "color": "#3d8fd1"},
         "encoding": {"x": {"datum": 2.558}, "y": {"datum": 19.9}}},
        {"data": {"name": "one"}, "mark": {"type": "text", "text": "删失", "align": "left", "baseline": "middle", "fontSize": 13, "fontWeight": "bold", "color": "#222222"},
         "encoding": {"x": {"datum": 2.558}, "y": {"datum": 15.6}}},
        {"data": {"name": "one"}, "mark": {"type": "text", "text": "有风险的患者例数", "align": "left", "baseline": "middle", "fontSize": 10, "fontWeight": "bold", "color": "#000000"},
         "encoding": {"x": {"datum": -4.085}, "y": {"datum": -11.62}}},
        {"data": {"name": "one"}, "mark": {"type": "text", "text": "泽布替尼", "align": "left", "baseline": "middle", "fontSize": 9, "fontWeight": "bold", "color": "#ff2a2a"},
         "encoding": {"x": {"datum": -2.46}, "y": {"datum": -14.68}}},
        {"data": {"name": "one"}, "mark": {"type": "text", "text": "伊布替尼", "align": "left", "baseline": "middle", "fontSize": 9, "fontWeight": "bold", "color": "#2a2aff"},
         "encoding": {"x": {"datum": -2.46}, "y": {"datum": -17.42}}},
        {"data": {"name": "one"}, "mark": {"type": "text", "text": "头条 @管是", "align": "left", "baseline": "middle", "fontSize": 22, "color": "#111111"},
         "encoding": {"x": {"datum": 15.57}, "y": {"datum": -20.15}}}
      ]
    }
  ]
}
